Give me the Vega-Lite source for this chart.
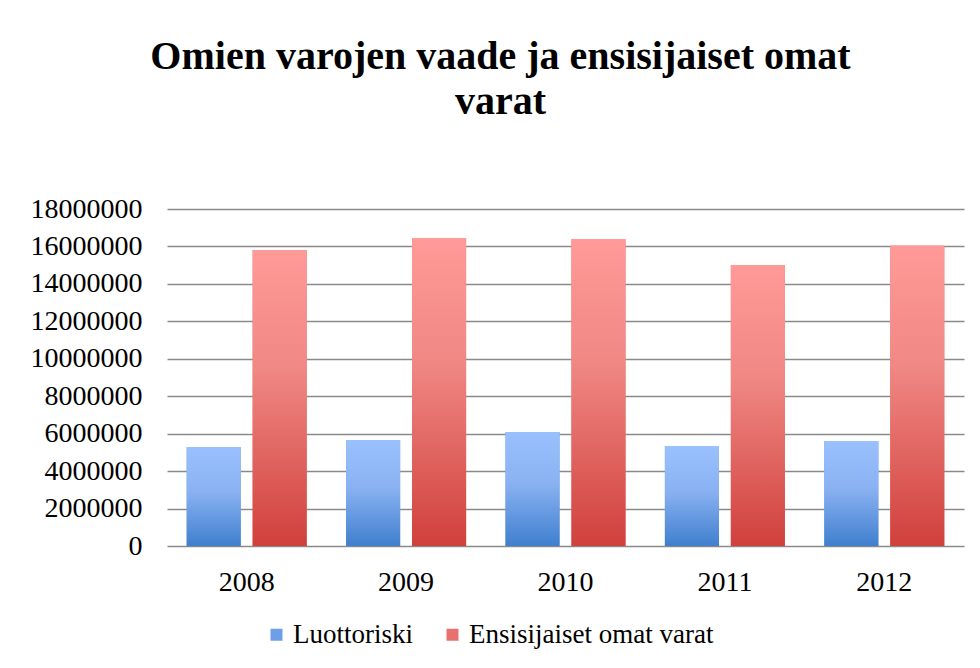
{
  "$schema": "https://vega.github.io/schema/vega-lite/v6.json",
  "width": 797,
  "height": 337,
  "autosize": {"type": "none"},
  "padding": {"left": 167, "top": 209, "right": 16, "bottom": 122},
  "background": "white",
  "title": {
    "text": ["Omien varojen vaade ja ensisijaiset omat", "varat"],
    "font": "Liberation Serif",
    "fontWeight": "bold",
    "fontSize": 40,
    "lineHeight": 45,
    "color": "#000000",
    "anchor": "middle",
    "frame": "group",
    "dx": -65,
    "baseline": "alphabetic",
    "offset": 41
  },
  "data": {
    "values": [
      {"year": "2008", "series": "Luottoriski", "value": 5290000},
      {"year": "2008", "series": "Ensisijaiset omat varat", "value": 15810000},
      {"year": "2009", "series": "Luottoriski", "value": 5660000},
      {"year": "2009", "series": "Ensisijaiset omat varat", "value": 16450000},
      {"year": "2010", "series": "Luottoriski", "value": 6090000},
      {"year": "2010", "series": "Ensisijaiset omat varat", "value": 16400000},
      {"year": "2011", "series": "Luottoriski", "value": 5340000},
      {"year": "2011", "series": "Ensisijaiset omat varat", "value": 15010000},
      {"year": "2012", "series": "Luottoriski", "value": 5610000},
      {"year": "2012", "series": "Ensisijaiset omat varat", "value": 16040000}
    ]
  },
  "encoding": {
    "x": {
      "field": "year",
      "type": "nominal",
      "scale": {"paddingInner": 0.247, "paddingOuter": 0.1235},
      "axis": {
        "title": null,
        "labelAngle": 0,
        "labelFont": "Liberation Serif",
        "labelFontSize": 28,
        "labelColor": "#000000",
        "labelPadding": 22,
        "ticks": false,
        "domain": false
      }
    },
    "xOffset": {
      "field": "series",
      "type": "nominal",
      "scale": {"domain": ["Luottoriski", "Ensisijaiset omat varat"], "paddingInner": 0.18, "paddingOuter": 0}
    },
    "y": {
      "field": "value",
      "type": "quantitative",
      "scale": {"domain": [0, 18000000], "nice": false},
      "axis": {
        "title": null,
        "values": [0, 2000000, 4000000, 6000000, 8000000, 10000000, 12000000, 14000000, 16000000, 18000000],
        "format": "d",
        "labelFont": "Liberation Serif",
        "labelFontSize": 28,
        "labelColor": "#000000",
        "labelPadding": 25,
        "ticks": false,
        "domain": false,
        "grid": true,
        "gridColor": "#8a8a8a",
        "gridWidth": 1.6
      }
    }
  },
  "layer": [
    {
      "mark": {"type": "bar"},
      "encoding": {
        "color": {
          "field": "series",
          "type": "nominal",
          "scale": {"domain": ["Luottoriski", "Ensisijaiset omat varat"], "range": ["#6d9fe8", "#e8706e"]},
          "legend": {
            "title": null,
            "orient": "none",
            "direction": "horizontal",
            "legendX": 96,
            "legendY": 412,
            "symbolType": "square",
            "symbolSize": 144,
            "symbolStrokeWidth": 0,
            "symbolOpacity": 1,
            "labelFont": "Liberation Serif",
            "labelFontSize": 27,
            "labelColor": "#000000",
            "labelOffset": 3,
            "columnPadding": 26,
            "labelLimit": 400
          }
        }
      }
    },
    {
      "mark": {"type": "bar"},
      "encoding": {
        "fill": {
          "condition": {
            "test": "datum.series === 'Luottoriski'",
            "value": {
              "gradient": "linear",
              "x1": 0, "y1": 0, "x2": 0, "y2": 1,
              "stops": [
                {"offset": 0, "color": "#9ac0fe"},
                {"offset": 0.45, "color": "#8ab2f2"},
                {"offset": 1, "color": "#3f7fce"}
              ]
            }
          },
          "value": {
            "gradient": "linear",
            "x1": 0, "y1": 0, "x2": 0, "y2": 1,
            "stops": [
              {"offset": 0, "color": "#ff9a98"},
              {"offset": 0.4, "color": "#f08884"},
              {"offset": 1, "color": "#d0403c"}
            ]
          }
        }
      }
    }
  ],
  "config": {
    "view": {"stroke": null}
  }
}
